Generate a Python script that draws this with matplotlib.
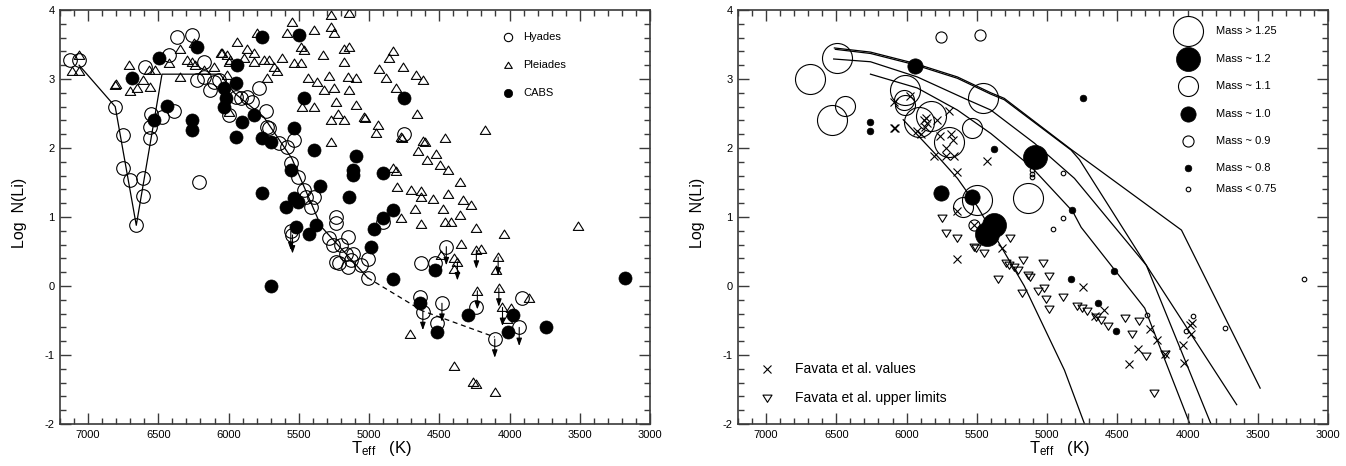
import matplotlib
matplotlib.use('Agg')
import matplotlib.pyplot as plt
from matplotlib.ticker import MultipleLocator, FixedLocator
from matplotlib.path import Path
import numpy as np

plt.rcParams['font.family'] = ['Liberation Sans', 'DejaVu Sans']
plt.rcParams['axes.unicode_minus'] = False
plt.rcParams['mathtext.fontset'] = 'custom'
plt.rcParams['mathtext.rm'] = 'Liberation Sans'
plt.rcParams['mathtext.it'] = 'Liberation Sans'

# ---------------- LEFT PANEL DATA ----------------
hyades = [(7129,3.28),(7064,3.28),(6807,2.60),(6752,2.19),(6752,1.71),(6705,1.54),(6657,0.88),
          (6609,1.56),(6609,1.30),(6562,2.14),(6562,2.31),(6555,2.50),(6593,3.18),(6474,2.45),
          (6426,3.35),(6390,2.53),(6367,3.61),(6259,3.64),(6212,1.51),(6176,3.25),(6224,2.99),
          (6176,3.03),(6129,2.84),(6105,2.96),(6069,2.99),(5998,2.48),(5950,2.74),(5914,2.72),
          (5867,2.74),(5831,2.67),(5783,2.87),(5736,2.53),(5724,2.31),(5712,2.29),(5641,2.07),
          (5581,2.02),(5557,1.78),(5536,2.12),(5509,1.58),(5464,1.39),(5450,1.29),(5414,1.15),
          (5393,1.29),(5557,0.79),(5545,0.74),(5283,0.69),(5259,0.59),(5236,1.00),(5236,0.91),
          (5200,0.59),(5152,0.71),(5164,0.47),(5117,0.47),(5129,0.38),(5236,0.35),(5212,0.33),
          (5152,0.28),(5057,0.30),(5010,0.39),(5010,0.11),(4748,2.21),(4903,0.93),(4629,0.33),
          (4533,0.33),(4450,0.57),(4640,-0.16),(4617,-0.37),(4481,-0.25),(4514,-0.54),
          (4236,-0.30),(4105,-0.77),(3914,-0.18),(3931,-0.60)]
hyades_limits = [(5557,0.79),(5545,0.74),(4450,0.57),(4617,-0.37),(4481,-0.25),(4105,-0.77),(3931,-0.60)]

pleiades = [(7117,3.11),(7064,3.11),(7064,3.35),(6807,2.91),(6800,2.93),(6712,3.20),(6705,2.82),
            (6652,2.87),(6607,2.98),(6562,2.88),(6569,3.13),(6521,3.13),(6426,3.23),(6343,3.43),
            (6343,3.03),(6295,3.28),(6259,3.25),(6236,3.20),(6248,3.52),(6176,3.13),(6105,3.18),
            (6057,3.37),(6045,3.37),(6010,3.35),(6000,3.25),(5990,3.27),(6010,3.06),(5998,2.52),
            (5938,3.54),(5890,3.30),(5867,3.44),(5819,3.37),(5819,3.25),(5795,3.66),(5748,3.28),
            (5712,3.28),(5724,3.01),(5676,3.18),(5652,3.11),(5617,3.30),(5581,3.66),(5545,3.83),
            (5533,3.23),(5486,3.23),(5486,3.47),(5464,3.42),(5438,3.01),(5391,3.71),(5474,2.60),
            (5391,2.60),(5367,2.96),(5331,3.35),(5319,2.84),(5286,3.04),(5271,3.93),(5271,3.76),
            (5250,3.67),(5248,2.87),(5236,2.67),(5271,2.41),(5271,2.09),(5224,2.50),
            (5140,3.95),(5176,3.44),(5140,3.47),(5176,3.25),(4831,3.40),(4855,3.30),(4926,3.15),
            (4760,3.18),(4664,3.06),(4617,2.99),(4879,3.01),(4807,2.87),(5152,3.03),(5093,3.01),
            (5140,2.84),(5093,2.62),(5176,2.41),(5033,2.45),(5030,2.43),(4938,2.33),(4950,2.22),
            (4771,2.16),(4765,2.14),(4657,2.50),(4614,2.10),(4605,2.08),(4462,2.14),(4176,2.26),
            (4652,1.95),(4521,1.92),(4586,1.83),(4498,1.75),(4438,1.68),(4831,1.71),(4807,1.66),
            (4355,1.51),(4800,1.44),(4700,1.39),(4633,1.37),(4633,1.29),(4545,1.26),(4438,1.34),
            (4331,1.25),(4271,1.17),(4676,1.11),(4474,1.11),(4355,1.03),(4776,0.98),(4633,0.90),
            (4462,0.93),(4414,0.93),(4236,0.84),(4038,0.76),(3514,0.87),
            (4348,0.61),(4486,0.45),(4395,0.40),(4371,0.35),(4395,0.24),(4236,0.52),(4200,0.53),
            (4081,0.42),(4093,0.23),(4229,-0.07),(4076,-0.03),(4050,-0.31),(3986,-0.32),
            (4021,-0.48),(3862,-0.18),(4705,-0.69),(4395,-1.16),(4259,-1.39),(4236,-1.42),(4105,-1.53)]
pleiades_limits = [(4371,0.35),(4236,0.52),(4081,0.42),(4229,-0.07),(4076,-0.03),(4050,-0.31)]

cabs = [(6688,3.01),(6533,2.41),(6498,3.31),(6438,2.61),(6259,2.41),(6259,2.26),(6224,3.47),
        (6033,2.87),(6021,2.72),(6033,2.60),(5938,3.20),(5950,2.94),(5950,2.16),(5902,2.38),
        (5819,2.48),(5760,3.61),(5760,2.14),(5700,2.09),(5760,1.35),(5593,1.15),(5533,2.29),
        (5557,1.68),(5533,1.27),(5509,1.22),(5521,0.86),(5426,0.75),(5379,0.88),(5498,3.64),
        (5462,2.72),(5391,1.97),(5350,1.45),(4748,2.73),(5093,1.88),(5117,1.68),(5117,1.61),
        (4903,1.64),(5140,1.29),(4831,1.10),(4903,0.98),(4962,0.82),(4986,0.57),(4831,0.10),
        (4533,0.23),(4640,-0.25),(4514,-0.66),(4295,-0.42),(3974,-0.42),(4010,-0.66),
        (3743,-0.60),(3176,0.11),(5700,0.00)]

hyades_mean = [(7064,3.20),(6807,2.60),(6657,0.88),(6474,3.07),(6060,3.07),(5960,2.80),
               (5750,2.45),(5550,1.85),(5340,0.86),(5010,0.12)]
hyades_mean_ext = [(5010,0.12),(4620,-0.36),(4105,-0.74)]

# ---------------- RIGHT PANEL DATA ----------------
mass_gt125 = [(6495,3.31),(6691,3.00),(6531,2.41),(6014,2.84),(5912,2.38),(5826,2.47),
              (5700,2.09),(5455,2.72),(5500,1.24),(5135,1.27)]
mass_12 = [(5083,1.87),(5376,0.88),(5429,0.76)]
mass_11 = [(6436,2.61),(6019,2.70),(6010,2.62),(5531,2.29),(5595,1.15)]
mass_10 = [(5938,3.19),(5755,1.35),(5531,1.29)]
mass_09 = [(5757,3.61),(5474,3.64),(5519,0.88)]
mass_08 = [(6257,2.37),(6257,2.25),(5381,1.98),(4745,2.72),(4821,1.10),(4829,0.10),
           (4526,0.22),(4638,-0.25),(4507,-0.65)]
mass_lt075 = [(5107,1.68),(5107,1.63),(5107,1.58),(4888,1.64),(4888,0.98),(4955,0.82),
              (4288,-0.42),(3964,-0.43),(4012,-0.65),(3733,-0.61),(3174,0.10)]

favata_values = [(6093,2.29),(6079,2.29),(6090,2.67),(5976,2.75),(5864,2.44),(5876,2.40),
                 (5857,2.36),(5869,2.31),(5929,2.24),(5900,2.21),(5781,2.41),(5698,2.53),
                 (5762,2.17),(5681,2.21),(5667,2.12),(5721,2.00),(5805,1.88),(5721,1.88),
                 (5662,1.88),(5638,1.65),(5429,1.81),(5643,1.09),(5519,0.88),(5638,0.39),
                 (5324,0.55),(4745,-0.01),(4657,-0.43),(4595,-0.35),(4269,-0.63),(4214,-0.78),
                 (4352,-0.92),(4417,-1.13),(4162,-0.99),(4031,-0.86),(4024,-1.11),(3983,-0.57),
                 (3971,-0.54),(3976,-0.70)]
favata_limits = [(5750,0.98),(5721,0.77),(5643,0.69),(5519,0.57),(5507,0.55),(5448,0.48),
                 (5348,0.10),(5262,0.69),(5174,0.37),(5293,0.34),(5269,0.30),(5233,0.28),
                 (5210,0.23),(5138,0.16),(5119,0.13),(5181,-0.10),(5026,0.33),(4983,0.14),
                 (5062,-0.07),(5024,-0.03),(5007,-0.19),(4983,-0.33),(4883,-0.16),(4786,-0.29),
                 (4750,-0.32),(4714,-0.36),(4655,-0.45),(4619,-0.49),(4567,-0.58),(4448,-0.46),
                 (4393,-0.69),(4348,-0.51),(4298,-1.02),(4162,-0.99),(4240,-1.55)]

model_a = [(6507,3.43),(6257,3.37),(5948,3.21),(5638,3.01),(5400,2.78),(5305,2.70),(4829,1.97),
           (4769,1.83),(4293,0.30),(3833,-2.00)]
model_b = [(6514,3.45),(6257,3.39),(5948,3.23),(5638,3.03),(5400,2.80),(5305,2.72),(4829,1.98),
           (4043,0.81),(3483,-1.48)]
model_c = [(6519,3.29),(6257,3.25),(5924,3.03),(5590,2.72),(5400,2.55),(5090,2.07),(4805,1.56),
           (4293,0.30),(3650,-1.72)]
model_d = [(6257,3.07),(5924,2.87),(5638,2.55),(5400,2.21),(5114,1.73),(4817,1.08),(4757,0.85),
           (4305,-0.32),(3983,-2.00)]
model_e = [(6024,2.41),(5757,1.83),(5638,1.56),(5495,1.15),(5162,0.00),(4876,-1.22),(4733,-2.00)]

x_ticks = [7000, 6500, 6000, 5500, 5000, 4500, 4000, 3500, 3000]
x_ticklabels = ['7000', '6500', '6000', '5500', '5000', '4500', '4000', '3500', '3000']
y_ticks = [-2, -1, 0, 1, 2, 3, 4]
y_ticklabels = ['-2', '-1', '0', '1', '2', '3', '4']

left_legend = ['Hyades', 'Pleiades', 'CABS']
mass_labels = ['Mass > 1.25', 'Mass ~ 1.2', 'Mass ~ 1.1', 'Mass ~ 1.0', 'Mass ~ 0.9',
               'Mass ~ 0.8', 'Mass < 0.75']
favata_labels = ['Favata et al. values', 'Favata et al. upper limits']

# ---------------- STYLE ----------------
up_tri = Path([(-1, -0.75), (1, -0.75), (0, 0.85), (-1, -0.75)],
              [Path.MOVETO, Path.LINETO, Path.LINETO, Path.CLOSEPOLY])
down_tri = Path([(-1, 0.75), (1, 0.75), (0, -0.85), (-1, 0.75)],
                [Path.MOVETO, Path.LINETO, Path.LINETO, Path.CLOSEPOLY])

SP = '#3a3a3a'


def xy(pairs):
    a = np.array(pairs, dtype=float)
    return a[:, 0], a[:, 1]


def style(ax):
    ax.set_xlim(7200, 3000)
    ax.set_ylim(-2, 4)
    ax.xaxis.set_major_locator(FixedLocator(x_ticks))
    ax.set_xticklabels(x_ticklabels)
    ax.xaxis.set_minor_locator(MultipleLocator(100))
    ax.yaxis.set_major_locator(FixedLocator(y_ticks))
    ax.set_yticklabels(y_ticklabels)
    ax.yaxis.set_minor_locator(MultipleLocator(0.2))
    ax.tick_params(which='both', direction='in', top=True, right=True, color=SP,
                   width=1.0, labelsize=8)
    ax.tick_params(which='major', length=8.0, pad=4.5)
    ax.tick_params(which='minor', length=4.2)
    ax.tick_params(axis='y', which='major', pad=4)
    for s in ax.spines.values():
        s.set_color(SP)
        s.set_linewidth(1.2)
    ax.text(0.493, -0.071, r'T$_{\rm eff}$   (K)', transform=ax.transAxes,
            ha='left', va='baseline', fontsize=12)
    ax.text(-0.069, 0.51, 'Log  N(Li)', transform=ax.transAxes, rotation=90,
            ha='center', va='center', fontsize=11.5)


def arrows(ax, pairs):
    for t, l in pairs:
        ax.annotate('', xy=(t, l - 0.27), xytext=(t, l),
                    arrowprops=dict(arrowstyle='-|>,head_length=0.45,head_width=0.16',
                                    color='k', lw=0.8, shrinkA=0, shrinkB=0), zorder=2)


fig = plt.figure(figsize=(13.46, 4.66), dpi=100)
ax1 = fig.add_axes([60 / 1346, 42 / 466, 590 / 1346, 414 / 466])
ax2 = fig.add_axes([738 / 1346, 42 / 466, 590 / 1346, 414 / 466])

# ---- left ----
style(ax1)
t, l = xy(hyades_mean)
ax1.plot(t, l, color='k', lw=0.9, zorder=1)
t, l = xy(hyades_mean_ext)
ax1.plot(t, l, color='k', lw=0.9, ls=(0, (4, 3)), zorder=1)
arrows(ax1, hyades_limits)
arrows(ax1, pleiades_limits)
t, l = xy(pleiades)
ax1.plot(t, l, ls='none', marker=up_tri, ms=7.5, mfc='none', mec='k', mew=0.8, zorder=3)
t, l = xy(hyades)
ax1.plot(t, l, ls='none', marker='o', ms=9.8, mfc='none', mec='k', mew=0.8, zorder=3)
t, l = xy(cabs)
ax1.plot(t, l, ls='none', marker='o', ms=9.4, mfc='k', mec='k', mew=0.5, zorder=4)

leg_style = [dict(marker='o', ms=6, mfc='none', mec='k', mew=0.8),
             dict(marker=up_tri, ms=5.5, mfc='none', mec='k', mew=0.8),
             dict(marker='o', ms=6, mfc='k', mec='k', mew=0.5)]
leg_y = [0.934, 0.867, 0.799]
for lab, st, yy in zip(left_legend, leg_style, leg_y):
    ax1.plot([0.759], [yy], transform=ax1.transAxes, ls='none', clip_on=False, **st)
    ax1.text(0.785, yy, lab, transform=ax1.transAxes, ha='left', va='center', fontsize=8)

# ---- right ----
style(ax2)
for m in [model_a, model_b, model_c, model_d, model_e]:
    t, l = xy(m)
    ax2.plot(t, l, color='k', lw=0.9, zorder=1)

t, l = xy(favata_limits)
ax2.plot(t, l, ls='none', marker=down_tri, ms=6.5, mfc='none', mec='k', mew=0.8, zorder=2)
t, l = xy(favata_values)
ax2.plot(t, l, ls='none', marker='x', ms=5.5, mec='k', mew=0.8, zorder=2)

mass_sets = [mass_gt125, mass_12, mass_11, mass_10, mass_09, mass_08, mass_lt075]
mass_ms = [21.6, 17.3, 14.4, 11.0, 8.0, 4.8, 3.3]
mass_fill = [False, True, False, True, False, True, False]
for pts, ms, fill in zip(mass_sets, mass_ms, mass_fill):
    t, l = xy(pts)
    ax2.plot(t, l, ls='none', marker='o', ms=ms, mfc='k' if fill else 'none', mec='k',
             mew=0.5 if fill else 0.8, zorder=3)

mass_leg_y = [0.950, 0.881, 0.816, 0.749, 0.684, 0.618, 0.567]
for lab, ms, fill, yy in zip(mass_labels, mass_ms, mass_fill, mass_leg_y):
    ax2.plot([0.762], [yy], transform=ax2.transAxes, ls='none', marker='o', ms=ms,
             mfc='k' if fill else 'white', mec='k', mew=0.5 if fill else 0.8,
             clip_on=False, zorder=6)
    ax2.text(0.811, yy, lab, transform=ax2.transAxes, ha='left', va='center', fontsize=8)

fav_leg_y = [0.132, 0.0635]
fav_markers = [dict(marker='x', ms=6, mec='k', mew=0.8),
               dict(marker=down_tri, ms=6.5, mfc='none', mec='k', mew=0.8)]
for lab, st, yy in zip(favata_labels, fav_markers, fav_leg_y):
    ax2.plot([0.0486], [yy], transform=ax2.transAxes, ls='none', **st)
    ax2.text(0.0966, yy, lab, transform=ax2.transAxes, ha='left', va='center', fontsize=10)

fig.savefig('out.png', dpi=100)
